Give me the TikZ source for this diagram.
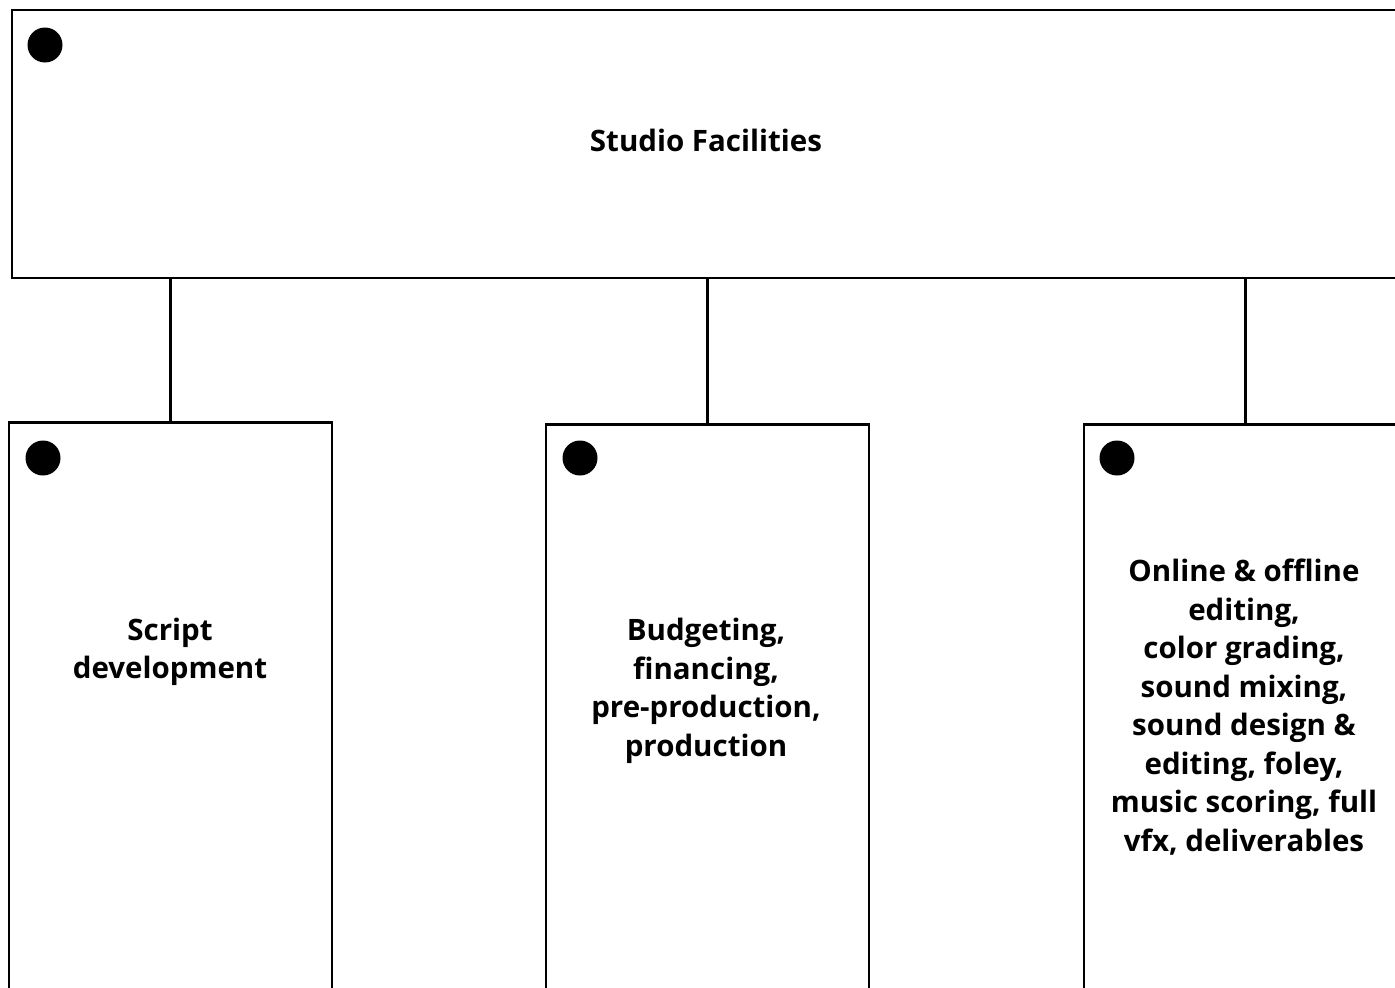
\documentclass[tikz,border=0pt]{standalone}
\usepackage{fontspec}
\setmainfont{Open Sans}
\usepackage{tikz}

\tikzset{
	topbox/.style={draw, line width=2.8pt, minimum width=1388pt, minimum height=268pt, inner sep=0pt},
	areabox/.style={draw, line width=2.8pt, minimum width=323pt, minimum height=640pt, inner sep=0pt, anchor=north},
	areatext/.style={align=center, font=\fontsize{29.5}{38.5}\selectfont\bfseries},
	pin/.style={fill, circle, minimum size=35pt, inner sep=0pt},
	link/.style={line width=2.5pt}
}

\begin{document}
\begin{tikzpicture}[x=1pt,y=-1pt]
				\clip (0,0) rectangle (1395,988);
				\useasboundingbox (0,0) rectangle (1395,988);
				% top box
				\node[topbox] (studio) at (706,144) {};
				\node[areatext] (studiotext) at (706,140) {Studio Facilities};
				\node[pin] (studiopin) at (45,45) {};
				% the three areas
				\node[areabox] (script) at (170.5,421) {};
				\node[areabox] (budget) at (707.5,423) {};
				\node[areabox] (post) at (1245.5,423) {};
				\node[pin] (scriptpin) at (43,458) {};
				\node[pin] (budgetpin) at (580,458) {};
				\node[pin] (postpin) at (1117,458) {};
				\node[areatext] (scripttext) at (170,652) {Script\\development};
				\node[areatext] (budgettext) at (706,691) {Budgeting,\\financing,\\pre-production,\\production};
				\node[areatext] (posttext) at (1244,707) {Online \& offline\\editing,\\color grading,\\sound mixing,\\sound design \&\\editing, foley,\\music scoring, full\\vfx, deliverables};
				% links
				\draw[link] (studio.south -| script.north) -- (script.north);
				\draw[link] (studio.south -| budget.north) -- (budget.north);
				\draw[link] (studio.south -| post.north) -- (post.north);
			\end{tikzpicture}
\end{document}
